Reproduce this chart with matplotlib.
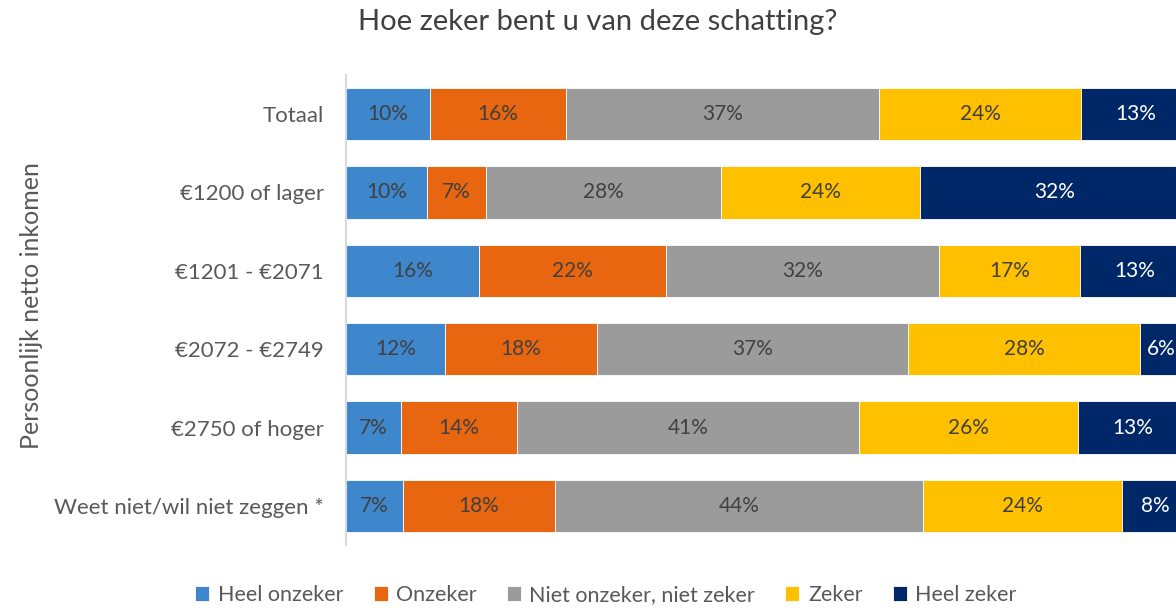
import matplotlib
matplotlib.use("Agg")
import matplotlib.pyplot as plt
import numpy as np

categories = ["Totaal", "€1200 of lager", "€1201 - €2071", "€2072 - €2749",
              "€2750 of hoger", "Weet niet/wil niet zeggen *"]
series_names = ["Heel onzeker", "Onzeker", "Niet onzeker, niet zeker", "Zeker", "Heel zeker"]
heel_onzeker = [10.0, 9.6, 15.8, 11.8, 6.6, 6.8]
onzeker = [16.2, 7.1, 22.3, 18.1, 13.7, 18.1]
neutraal = [37.3, 27.9, 32.5, 37.0, 40.8, 43.8]
zeker = [24.0, 23.7, 16.8, 27.6, 26.1, 23.7]
heel_zeker = [13.0, 32.0, 13.0, 6.0, 13.0, 8.0]

colors = ["#3F87CD", "#E8660F", "#9B9B9B", "#FFC000", "#002868"]
text_colors = ["#404040", "#404040", "#404040", "#404040", "#FFFFFF"]

plt.rcParams['font.family'] = ['Lato', 'DejaVu Sans']

W, H = 1176, 608
fig = plt.figure(figsize=(W / 100, H / 100), dpi=100)
ax_left_px, ax_width_px = 346, 840
ax = fig.add_axes([ax_left_px / W, 63 / H, ax_width_px / W, 470 / H])

# the chart is cropped at the right edge of the picture; keep labels inside it
visible_max = (W - ax_left_px) / ax_width_px * 100
label_max = visible_max - 1.7

data = [heel_onzeker, onzeker, neutraal, zeker, heel_zeker]
y = np.arange(len(categories))
left = np.zeros(len(categories))
for vals, name, c, tc in zip(data, series_names, colors, text_colors):
    vals = np.array(vals)
    ax.barh(y, vals, left=left, height=0.67, color=c, label=name,
            edgecolor="white", linewidth=0.6)
    for yi, (l, v) in enumerate(zip(left, vals)):
        ax.text(min(l + v / 2, label_max), yi, f"{v:.0f}%", ha="center", va="center",
                color=tc, fontsize=15)
    left += vals

ax.set_xlim(0, 100)
ax.set_ylim(len(categories) - 0.5, -0.5)
ax.set_yticks(y)
ax.set_yticklabels(categories, fontsize=16, color="#595959")
ax.tick_params(axis="y", length=0, pad=16)
ax.set_xticks([])
for s in ["top", "right", "bottom"]:
    ax.spines[s].set_visible(False)
ax.spines["left"].set_color("#D9D9D9")
ax.spines["left"].set_linewidth(1.5)

fig.text(598 / W, 1 - 22 / H, "Hoe zeker bent u van deze schatting?", ha="center",
         va="center", fontsize=21, color="#404040")
fig.text(32 / W, 1 - 306 / H, "Persoonlijk netto inkomen", rotation=90, ha="center",
         va="center", fontsize=18, color="#595959")

fig.legend(loc="center", bbox_to_anchor=(606 / W, 1 - 595 / H), ncol=5, frameon=False,
           fontsize=15.5, handlelength=0.65, handleheight=0.65, handletextpad=0.4,
           columnspacing=1.4, labelcolor="#595959")

fig.savefig("out.png", dpi=100)
